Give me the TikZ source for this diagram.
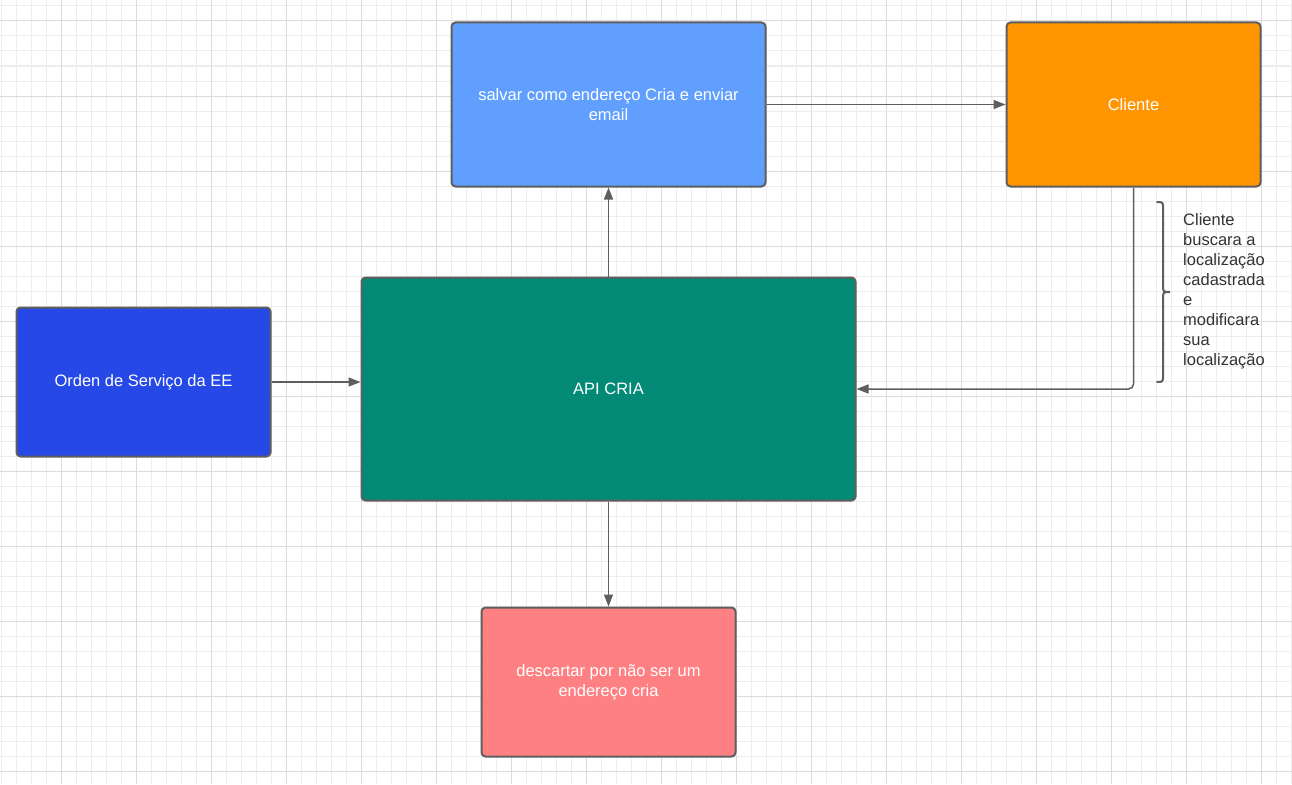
\documentclass[tikz,border=0pt]{standalone}
\usepackage{fontspec}
\setmainfont{Liberation Sans}
\usetikzlibrary{arrows.meta}

\definecolor{edge}{HTML}{5E5E5E}
\definecolor{gridminor}{HTML}{EDEDED}
\definecolor{gridmajor}{HTML}{DCDCDC}
\definecolor{ordenblue}{HTML}{2548E6}
\definecolor{apiteal}{HTML}{038A76}
\definecolor{salvarblue}{HTML}{619FFF}
\definecolor{clienteorange}{HTML}{FF9500}
\definecolor{descartarred}{HTML}{FF8083}
\definecolor{notegray}{HTML}{333333}

\begin{document}
\begin{tikzpicture}[x=1pt,y=-1pt,
  box/.style={draw=edge, line width=2pt, rounded corners=4pt, text=white,
    align=center, inner sep=0pt, font=\fontsize{16.5}{20}\selectfont},
  link/.style={draw=edge, line width=1.5pt, -{Triangle[length=12pt,width=9pt]}},
  note/.style={text=notegray, align=left, inner sep=0pt, anchor=north west,
    font=\fontsize{16.5}{20}\selectfont}]

% page background and grid
\fill[white] (0,0) rectangle (1292,784);
\useasboundingbox (0,0) rectangle (1292,784);
\foreach \x in {1,16,...,1291} \draw[gridminor, line width=1pt] (\x,0) -- (\x,784);
\foreach \y in {6,21,...,784} \draw[gridminor, line width=1pt] (0,\y) -- (1292,\y);
\foreach \x in {61,136,...,1291} \draw[gridmajor, line width=1pt] (\x,0) -- (\x,784);
\foreach \y in {21,96,...,784} \draw[gridmajor, line width=1pt] (0,\y) -- (1292,\y);

% boxes
\node[box, fill=ordenblue, minimum width=254pt, minimum height=149pt]
  (orden) at (143.5,382) {Orden de Servi\c{c}o da EE};
\node[box, fill=apiteal, minimum width=494pt, minimum height=223pt]
  (api) at (608.5,389) {API CRIA};
\node[box, fill=salvarblue, minimum width=314pt, minimum height=164pt]
  (salvar) at (608.5,104.5) {salvar como endereço Cria e enviar\\email};
\node[box, fill=clienteorange, minimum width=254pt, minimum height=164pt]
  (cliente) at (1133.5,104.5) {Cliente};
\node[box, fill=descartarred, minimum width=254pt, minimum height=149pt]
  (descartar) at (608.5,682) {descartar por não ser um\\endereço cria};

% connectors
\draw[link] (orden.east) -- (orden.east -| api.west);
\draw[link] (api.north) -- (salvar.south);
\draw[link] (salvar.east) -- (cliente.west);
\draw[link, rounded corners=5pt] (cliente.south) |- (api.east);
\draw[link] (api.south) -- (descartar.north);

% brace with its note
\draw[edge, line width=2pt, line cap=round]
  (1157,202) .. controls (1163,202) .. (1163,209) -- (1163,285)
  .. controls (1163,292) .. (1170,292) .. controls (1163,292) .. (1163,299)
  -- (1163,375) .. controls (1163,382) .. (1157,382);
\node[note] (nota) at (1183,213)
  {Cliente\\buscara a\\localização\\cadastrada\\e\\modificara\\sua\\localização};
\end{tikzpicture}
\end{document}
